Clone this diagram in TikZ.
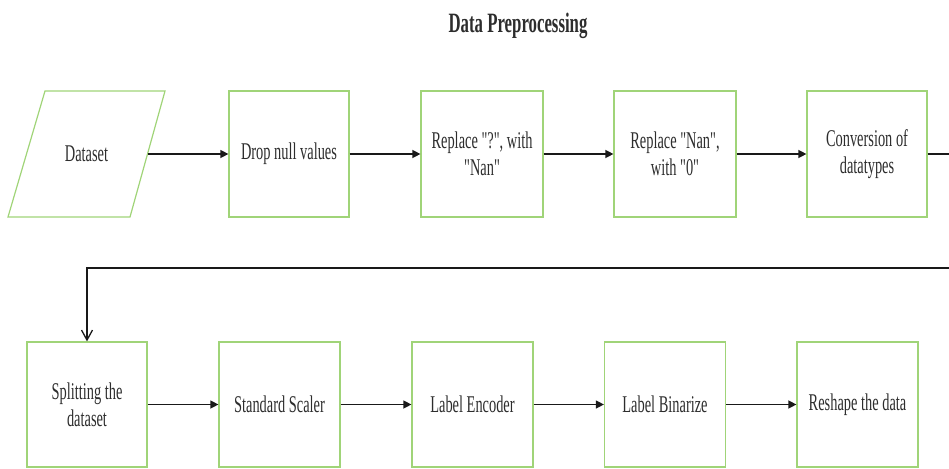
\documentclass[tikz,border=0pt]{standalone}
\usepackage{fontspec}
\setmainfont[FakeStretch=0.6, Ligatures=TeXOff]{Liberation Serif}
\usetikzlibrary{arrows.meta}
\definecolor{boxgreen}{RGB}{160,212,120}
\definecolor{txt}{RGB}{45,45,45}
\definecolor{conn}{RGB}{25,25,25}
\tikzset{
  stepbox/.style={draw=boxgreen, line width=1.2pt, rectangle, minimum width=121pt, minimum height=126pt, inner sep=0pt, align=center, text=txt, font=\fontsize{24}{27}\selectfont},
  plaintext/.style={inner sep=0pt, align=center, text=txt, font=\fontsize{24}{27}\selectfont},
  dataedge/.style={draw=boxgreen, line width=1.2pt, line join=miter},
  flow/.style={draw=conn, line width=1.3pt, -{Triangle[length=8pt,width=8pt]}},
  back/.style={draw=conn, line width=1.3pt, -{Straight Barb[length=10pt,width=11pt]}},
  titletext/.style={text=txt, font=\bfseries\fontsize{28}{30}\selectfont, inner sep=0pt}
}
\begin{document}
\begin{tikzpicture}[x=1pt,y=-1pt]
\useasboundingbox (0,0) rectangle (949,468);
\node[titletext] (title) at (518,26) {Data Preprocessing};
% top row
\coordinate (dtl) at (45,91);
\coordinate (dtr) at (165,91);
\coordinate (dbr) at (130,217);
\coordinate (dbl) at (8,217);
\draw[dataedge] (dtl) -- (dtr) -- (dbr) -- (dbl) -- cycle;
\node[plaintext] (ds) at (86.5,154) {Dataset};
\coordinate (dsr) at (147.5,154);
\node[stepbox, minimum width=120pt] (drop) at (289,154) {Drop null values};
\node[stepbox, minimum width=122pt] (rq) at (482,154) {Replace "?", with\\"Nan"};
\node[stepbox, minimum width=122pt] (rn) at (675,154) {Replace "Nan",\\with "0"};
\node[stepbox, minimum width=120pt] (conv) at (867,154) {Conversion of\\datatypes};
% bottom row
\node[stepbox, minimum width=120pt, minimum height=125pt] (split) at (87,404.5) {Splitting the\\dataset};
\node[stepbox, minimum height=125pt] (std) at (279.5,404.5) {Standard Scaler};
\node[stepbox, minimum height=125pt] (enc) at (472.5,404.5) {Label Encoder};
\node[stepbox, minimum height=125pt] (bin) at (665,404.5) {Label Binarize};
\node[stepbox, minimum height=125pt] (resh) at (857.5,404.5) {Reshape the data};
% connectors
\draw[flow] (dsr) -- (drop.west);
\draw[flow] (drop.east) -- (rq.west);
\draw[flow] (rq.east) -- (rn.west);
\draw[flow] (rn.east) -- (conv.west);
\coordinate (rt) at (965,268);
\draw[back] (conv.east) -| (rt) -| (split.north);
\draw[flow] (split.east) -- (std.west);
\draw[flow] (std.east) -- (enc.west);
\draw[flow] (enc.east) -- (bin.west);
\draw[flow] (bin.east) -- (resh.west);
\end{tikzpicture}
\end{document}
